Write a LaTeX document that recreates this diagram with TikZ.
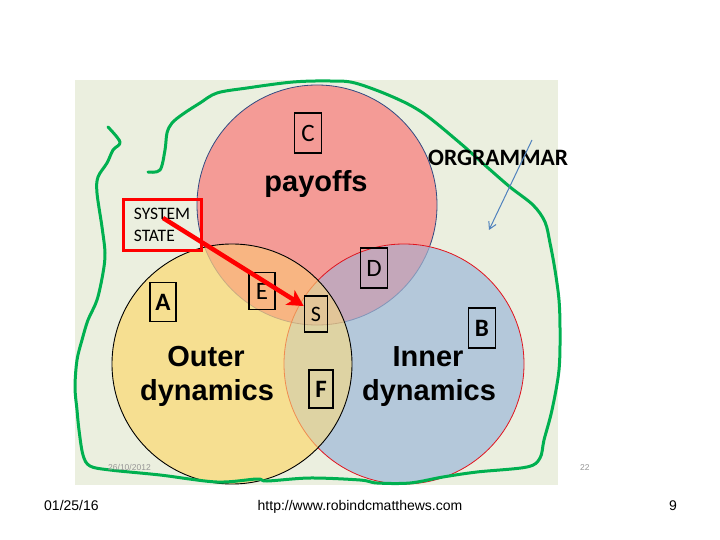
\documentclass[tikz,border=0pt]{standalone}
\usepackage{fontspec}
\setmainfont{Carlito}
\newfontfamily\arialf{Liberation Sans}
\usetikzlibrary{arrows.meta}
\definecolor{bgc}{RGB}{235,239,223}
\definecolor{pinkc}{RGB}{244,155,150}
\definecolor{bluec}{RGB}{180,200,218}
\definecolor{yelc}{RGB}{246,223,145}
\definecolor{mauvec}{RGB}{196,167,186}
\definecolor{orangec}{RGB}{248,181,130}
\definecolor{khakic}{RGB}{222,211,163}
\definecolor{tanc}{RGB}{226,197,152}
\definecolor{pbordc}{RGB}{50,75,130}
\definecolor{pbordb}{RGB}{130,150,185}
\definecolor{pbordy}{RGB}{200,172,130}
\definecolor{iredc}{RGB}{225,20,30}
\definecolor{iorc}{RGB}{240,140,80}
\definecolor{greenc}{RGB}{0,176,80}
\definecolor{arrowblue}{RGB}{79,129,189}
\definecolor{grayt}{RGB}{150,150,150}
\tikzset{
  lbox/.style={draw=black, line width=1.5pt, inner sep=0pt, font=\fontsize{25}{25}\selectfont},
  lboxb/.style={lbox, font=\bfseries\fontsize{25}{25}\selectfont},
  biglabel/.style={anchor=base, inner sep=0pt, font=\arialf\bfseries\fontsize{29}{34}\selectfont},
  foot/.style={anchor=base, inner sep=0pt, font=\arialf\fontsize{14}{16}\selectfont},
  tiny/.style={anchor=base west, inner sep=0pt, text=grayt, font=\arialf\fontsize{8.5}{9}\selectfont},
  greenline/.style={draw=greenc, line width=3pt, line cap=round, line join=round},
}
\begin{document}
\begin{tikzpicture}[x=1pt,y=-1pt]
\useasboundingbox (0,0) rectangle (720,540);
\fill[white] (0,0) rectangle (720,540);
\fill[bgc] (75,80) rectangle (558,485);
\coordinate (P) at (317,205);
\coordinate (O) at (232,364);
\coordinate (I) at (404,364);
% payoffs
\fill[pinkc] (P) circle[radius=120pt];
\draw[pbordc, line width=0.8pt] (P) circle[radius=120pt];
% inner
\fill[bluec] (I) circle[radius=120pt];
\begin{scope}
  \clip (I) circle[radius=120pt];
  \fill[mauvec] (P) circle[radius=120pt];
  \draw[pbordb, line width=0.8pt] (P) circle[radius=120pt];
\end{scope}
\draw[iredc, line width=0.8pt] (I) circle[radius=120pt];
% outer
\fill[yelc] (O) circle[radius=120pt];
\begin{scope}
  \clip (O) circle[radius=120pt];
  \fill[orangec] (P) circle[radius=120pt];
  \fill[khakic] (I) circle[radius=120pt];
  \begin{scope}
    \clip (P) circle[radius=120pt];
    \fill[tanc] (I) circle[radius=120pt];
  \end{scope}
  \draw[pbordy, line width=0.8pt] (P) circle[radius=120pt];
  \draw[iorc, line width=0.8pt] (I) circle[radius=120pt];
\end{scope}
\draw[black, line width=0.9pt] (O) circle[radius=120pt];
% green hand-drawn loop
\draw[greenline] plot[smooth, tension=0.55] coordinates {
 (148,172) (160,170) (165,150) (167,133) (172,123) (183,114) (200,103) (217,93)
 (247,88) (293,82) (330,81) (355,83) (393,97) (423,113) (460,143) (487,167)
 (510,187) (533,205) (545,222) (550,243) (555,270) (559,300) (560,330) (559,370)
 (552,410) (544,440) (540,458) (527,467) (477,472) (443,477) (410,483) (377,483)
 (360,480) (310,478) (267,481) (257,479) (217,482) (160,475) (110,470) (90,466)
 (83,455) (79,430) (77,410) (75,387) (77,360) (82,340) (88,320) (97,300)
 (103,273) (105,253) (102,227) (97,193) (98,177) (107,163) (113,150) (120,142) (108,127)};
% labels
\node[biglabel] (pay) at (316,192) {payoffs};
\node[biglabel] (out1) at (206,366) {Outer};
\node[biglabel] (out2) at (207,400) {dynamics};
\node[biglabel] (inn1) at (428,366) {Inner};
\node[biglabel] (inn2) at (429,400) {dynamics};
\node[anchor=base west, inner sep=0pt, font=\bfseries\fontsize{23.5}{23.5}\selectfont] (gram) at (428,166) {ORGRAMMAR};
% letter boxes
\node[lbox, minimum width=27pt, minimum height=40pt] (C) at (308,133) {C};
\node[lbox, minimum width=27pt, minimum height=40pt] (D) at (374,268) {D};
\node[lbox, minimum width=26pt, minimum height=37pt] (E) at (262,291) {E};
\node[lboxb, minimum width=26pt, minimum height=39pt] (A) at (163,302) {A};
\node[lbox, minimum width=23pt, minimum height=36pt, font=\fontsize{22}{22}\selectfont] (S) at (316,314) {S};
\node[lboxb, minimum width=27pt, minimum height=40pt] (B) at (482,328) {B};
\node[lboxb, minimum width=24pt, minimum height=38pt] (F) at (321,389) {F};
% system state
\node[draw=red, line width=3pt, minimum width=78pt, minimum height=50pt, inner sep=0pt,
      align=left, font=\fontsize{17.5}{22}\selectfont] (SS) at (162,225) {SYSTEM\\STATE};
\coordinate (ss0) at (163,218);
\draw[red, line width=4.5pt, -{Stealth[length=16pt, width=17pt, inset=4pt]}] (ss0) -- (S.147);
% blue arrow
\coordinate (ga) at (532,140);
\coordinate (gb) at (489,230);
\draw[arrowblue, line width=1pt, -{Straight Barb[length=7pt, width=8pt]}] (ga) -- (gb);
% small texts
\node[tiny] (d1) at (108,470) {26/10/2012};
\node[tiny] (d2) at (580,470) {22};
% footer
\node[foot, anchor=base west] (f1) at (44,510) {01/25/16};
\node[foot] (f2) at (360,510) {http://www.robindcmatthews.com};
\node[foot] (f3) at (673,510) {9};
\end{tikzpicture}
\end{document}
